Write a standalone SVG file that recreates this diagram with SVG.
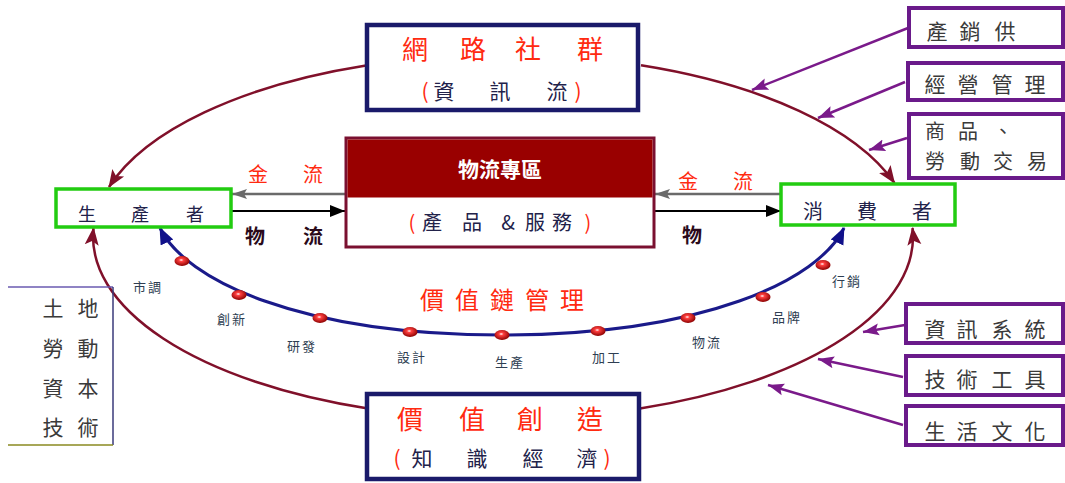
<svg xmlns="http://www.w3.org/2000/svg" width="1065" height="483" viewBox="0 0 1065 483">
<style>
.cjk{font-family:"Noto Sans CJK TC","Noto Sans CJK SC",sans-serif;}
.red{fill:#ff2a10;}
.dark{fill:#22224a;}
.gray{fill:#3a3a3a;}
.small{font-size:13px;fill:#2e3e52;}
.arc{fill:none;stroke:#80102a;stroke-width:2.5;}
.pur{fill:none;stroke:#7a1a8a;stroke-width:2.5;}
.pbox{fill:#fff;stroke:#6a1a8a;stroke-width:4;}
.gbox{fill:#fff;stroke:#22cc11;stroke-width:3.5;}
.nbox{fill:#fff;stroke:#1a1a6a;stroke-width:4.5;}
</style>
<defs>
<marker id="mArc" markerUnits="userSpaceOnUse" markerWidth="20" markerHeight="16" refX="17" refY="8" orient="auto"><path d="M0,1 L18,8 L0,15 L4,8 Z" fill="#80102a"/></marker>
<marker id="mPur" markerUnits="userSpaceOnUse" markerWidth="18" markerHeight="14" refX="16" refY="7" orient="auto"><path d="M0,1 L16,7 L0,13 L3,7 Z" fill="#7a1a8a"/></marker>
<marker id="mNavy" markerUnits="userSpaceOnUse" markerWidth="18" markerHeight="16" refX="16" refY="8" orient="auto-start-reverse"><path d="M0,1 L17,8 L0,15 Z" fill="#10108a"/></marker>
<marker id="mBlack" markerUnits="userSpaceOnUse" markerWidth="16" markerHeight="12" refX="15" refY="6" orient="auto"><path d="M0,0 L15,6 L0,12 Z" fill="#000"/></marker>
<marker id="mGray" markerUnits="userSpaceOnUse" markerWidth="16" markerHeight="12" refX="15" refY="6" orient="auto"><path d="M0,1 L15,6 L0,11 L3,6 Z" fill="#6a6a6a"/></marker>
<radialGradient id="dotG" cx="0.45" cy="0.4" r="0.6"><stop offset="0" stop-color="#fff"/><stop offset="0.25" stop-color="#ff4040"/><stop offset="1" stop-color="#8a0000"/></radialGradient>
</defs>

<g id="connectors">
<path class="arc" d="M366,65.5 A410,182 0 0,0 109,187" marker-end="url(#mArc)"/>
<path class="arc" d="M641,65.3 A410,182 0 0,1 894.5,183" marker-end="url(#mArc)"/>
<path class="arc" d="M368,408.5 A410,182 0 0,1 93.5,228" marker-end="url(#mArc)"/>
<path class="arc" d="M640,408.5 A410,182 0 0,0 912.5,228" marker-end="url(#mArc)"/>
<line class="pur" x1="908" y1="28" x2="752" y2="90" marker-end="url(#mPur)"/>
<line class="pur" x1="905" y1="82" x2="818" y2="118" marker-end="url(#mPur)"/>
<line class="pur" x1="907" y1="138" x2="869" y2="150" marker-end="url(#mPur)"/>
<line class="pur" x1="905" y1="325" x2="863" y2="332" marker-end="url(#mPur)"/>
<line class="pur" x1="903" y1="377" x2="818" y2="359" marker-end="url(#mPur)"/>
<line class="pur" x1="903" y1="425" x2="768" y2="385" marker-end="url(#mPur)"/>
<line x1="345" y1="194" x2="232" y2="194" stroke="#6a6a6a" stroke-width="2.5" marker-end="url(#mGray)"/>
<line x1="222" y1="211" x2="345" y2="211" stroke="#000" stroke-width="2" marker-end="url(#mBlack)"/>
<line x1="781" y1="194" x2="655" y2="194" stroke="#6a6a6a" stroke-width="2.5" marker-end="url(#mGray)"/>
<line x1="655" y1="211" x2="781" y2="211" stroke="#000" stroke-width="2" marker-end="url(#mBlack)"/>
<path d="M160,228 C185,280 300,335 502,335 C704,335 819,280 844,228" fill="none" stroke="#1a1a8a" stroke-width="3" marker-start="url(#mNavy)" marker-end="url(#mNavy)"/>
</g>

<g id="value-chain-dots">
<ellipse cx="182" cy="261" rx="7.5" ry="5" fill="url(#dotG)"/>
<ellipse cx="239" cy="295" rx="7.5" ry="5" fill="url(#dotG)"/>
<ellipse cx="320" cy="318" rx="7.5" ry="5" fill="url(#dotG)"/>
<ellipse cx="410" cy="332" rx="7.5" ry="5" fill="url(#dotG)"/>
<ellipse cx="502" cy="335" rx="7.5" ry="5" fill="url(#dotG)"/>
<ellipse cx="598" cy="331" rx="7.5" ry="5" fill="url(#dotG)"/>
<ellipse cx="688" cy="318" rx="7.5" ry="5" fill="url(#dotG)"/>
<ellipse cx="763" cy="297" rx="7.5" ry="5" fill="url(#dotG)"/>
<ellipse cx="823" cy="265" rx="7.5" ry="5" fill="url(#dotG)"/>
</g>

<g id="value-chain-labels" class="cjk small" text-anchor="middle">
<text x="148" y="292" letter-spacing="2">市調</text>
<text x="232" y="324" letter-spacing="2">創新</text>
<text x="302" y="351" letter-spacing="2">研發</text>
<text x="412" y="362" letter-spacing="2">設計</text>
<text x="510" y="367" letter-spacing="2">生產</text>
<text x="607" y="362" letter-spacing="2">加工</text>
<text x="707" y="347" letter-spacing="2">物流</text>
<text x="787" y="322" letter-spacing="2">品牌</text>
<text x="847" y="286" letter-spacing="2">行銷</text>
</g>

<g id="value-chain-title">
<text class="cjk red" x="420" y="309" font-size="24" letter-spacing="11">價值鏈管理</text>
</g>

<g id="flow-labels" class="cjk" font-size="20" text-anchor="middle">
<text class="red" x="258 313" y="182">金流</text>
<text x="255 313" y="244" fill="#2a0a1a" font-weight="bold">物流</text>
<text class="red" x="688 743" y="189">金流</text>
<text x="692" y="243" fill="#2a0a1a" font-weight="bold">物</text>
</g>

<g id="network">
<rect class="nbox" x="367" y="25" width="271" height="85"/>
<text class="cjk red" font-size="26" text-anchor="middle" x="415 473 528 590" y="59">網路社群</text>
<text class="cjk" font-size="21" text-anchor="middle" y="99"><tspan class="red" x="425">(</tspan><tspan class="dark" x="444 500 557">資訊流</tspan><tspan class="red" x="578">)</tspan></text>
</g>

<g id="logistics">
<rect x="346" y="138" width="308" height="109" fill="#fff" stroke="#7a1030" stroke-width="3"/>
<rect x="347.5" y="139.5" width="305" height="58" fill="#990000"/>
<text class="cjk" x="500" y="177" font-size="21" font-weight="bold" fill="#fff" text-anchor="middle">物流專區</text>
<text class="cjk" font-size="20" y="230" text-anchor="middle"><tspan class="red" x="412">(</tspan><tspan class="dark" x="432">產</tspan><tspan class="dark" x="472 508 535 562">品&amp;服務</tspan><tspan class="red" x="588">)</tspan></text>
</g>

<g id="producer">
<rect class="gbox" x="56" y="189" width="175" height="38"/>
<text class="cjk dark" font-size="18" text-anchor="middle" x="87 140 195" y="221">生產者</text>
</g>

<g id="consumer">
<rect class="gbox" x="781" y="184" width="174" height="41"/>
<text class="cjk dark" font-size="20" text-anchor="middle" x="813 867 922" y="219">消費者</text>
</g>

<g id="value-creation">
<rect class="nbox" x="367" y="394" width="272" height="85"/>
<text class="cjk red" font-size="26" text-anchor="middle" x="410 472 530 590" y="429">價值創造</text>
<text class="cjk" font-size="21" text-anchor="middle" y="466"><tspan class="red" x="397">(</tspan><tspan class="dark" x="422 477 533 587">知識經濟</tspan><tspan class="red" x="607">)</tspan></text>
</g>

<g id="resources">
<line x1="8" y1="287" x2="113" y2="287" stroke="#6a5ab0" stroke-width="1.5"/>
<line x1="113" y1="287" x2="113" y2="445" stroke="#3a3a7a" stroke-width="1.5"/>
<line x1="8" y1="445" x2="113" y2="445" stroke="#8a8a20" stroke-width="1.5"/>
<g class="cjk gray" font-size="21" text-anchor="middle">
<text x="53 88" y="316">土地</text>
<text x="53 88" y="356">勞動</text>
<text x="53 88" y="396">資本</text>
<text x="53 88" y="435">技術</text>
</g>
</g>

<g id="supply-sales">
<rect class="pbox" x="909" y="8" width="154" height="39"/>
<text class="cjk gray" font-size="21" text-anchor="middle" x="937 970 1005" y="39">產銷供</text>
</g>
<g id="management">
<rect class="pbox" x="908" y="63" width="155" height="37"/>
<text class="cjk gray" font-size="21" text-anchor="middle" x="935 968 1002 1035" y="92">經營管理</text>
</g>
<g id="trade">
<rect class="pbox" x="909" y="114" width="154" height="64"/>
<text class="cjk gray" font-size="20" text-anchor="middle" x="935 968 1003" y="139">商品、</text>
<text class="cjk gray" font-size="20" text-anchor="middle" x="935 970 1003 1037" y="169">勞動交易</text>
</g>
<g id="info-systems">
<rect class="pbox" x="906" y="304" width="157" height="39"/>
<text class="cjk gray" font-size="21" text-anchor="middle" x="935 967 1002 1035" y="337">資訊系統</text>
</g>
<g id="tech-tools">
<rect class="pbox" x="906" y="356" width="157" height="39"/>
<text class="cjk gray" font-size="21" text-anchor="middle" x="935 967 1002 1035" y="387">技術工具</text>
</g>
<g id="life-culture">
<rect class="pbox" x="906" y="406" width="157" height="39"/>
<text class="cjk gray" font-size="21" text-anchor="middle" x="935 967 1002 1035" y="439">生活文化</text>
</g>
</svg>
